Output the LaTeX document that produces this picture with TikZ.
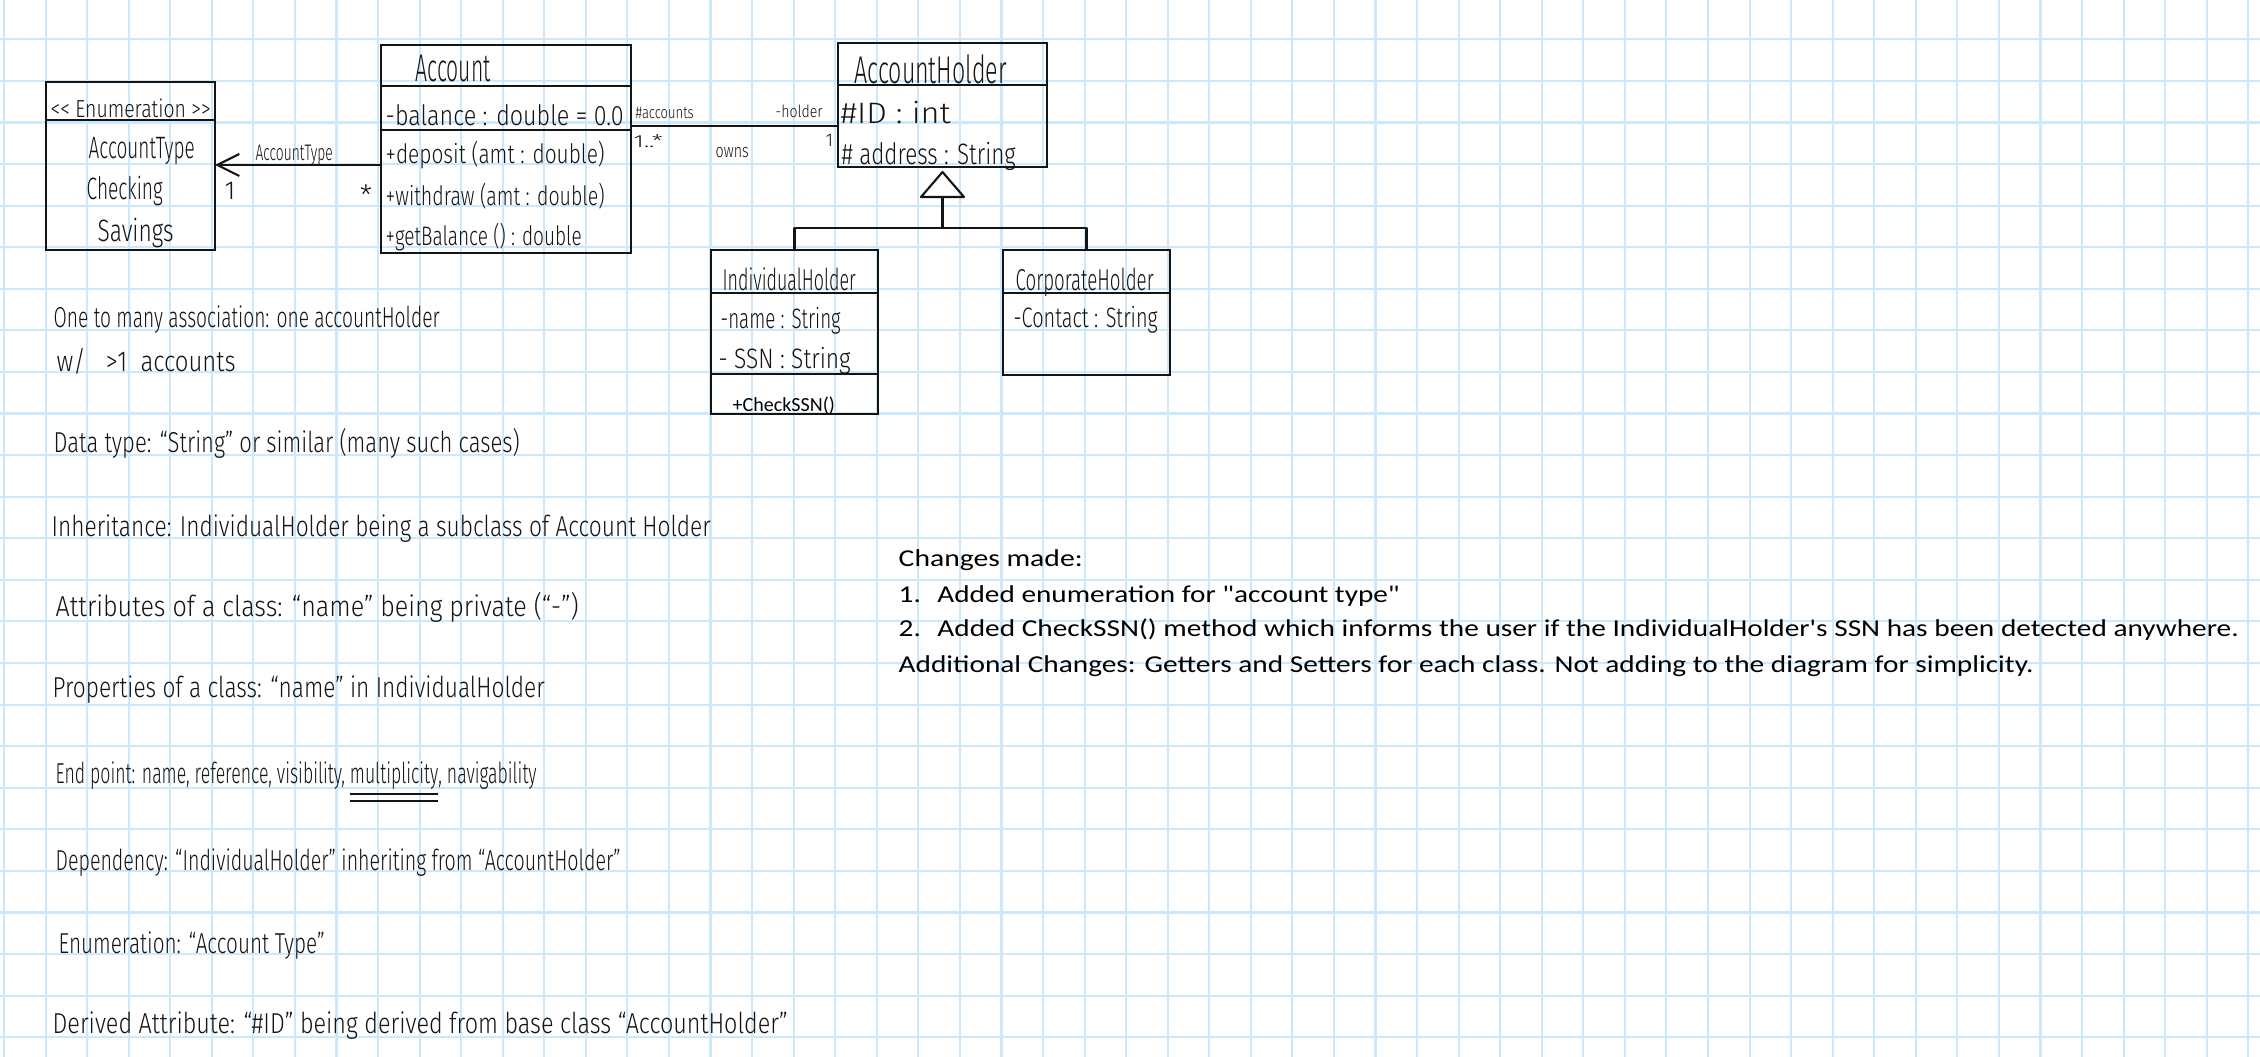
\documentclass[tikz,border=0pt]{standalone}
\usepackage{fontspec}
\usepackage{graphicx}
\usetikzlibrary{positioning, arrows.meta, calc}
\setmainfont{Carlito}
\newfontfamily\handfont[Ligatures=TeX]{Fira Sans Light}
\newfontfamily\typedfont{Carlito}
\definecolor{gridc}{HTML}{CCE8FA}
\definecolor{ink}{HTML}{141414}
\newcommand\handfit[2]{\resizebox{#1}{\height}{#2}}

\begin{document}
\begin{tikzpicture}[
  hand/.style={font=\handfont\fontsize{#1}{#1}\selectfont, text=ink,
               inner sep=0pt, anchor=base west},
  hand/.default=8.2,
  typed/.style={font=\typedfont\fontsize{#1}{#1}\selectfont, text=black,
                inner sep=0pt, anchor=base west},
  typed/.default=6.9,
  cls/.style={draw=ink, line width=0.75pt, inner sep=0pt, outer sep=0pt,
              anchor=north west},
  rule/.style={draw=ink, line width=0.75pt},
  conn/.style={draw=ink, line width=0.6pt, line join=round},
  gridline/.style={gridc, line width=0.6pt},
]
\useasboundingbox (0,0) rectangle (22.6,-10.57);
\fill[white] (0,0) rectangle (22.6,-10.57);

% --- graph paper ------------------------------------------------------------
\foreach \k in {0,...,54}
  \draw[gridline] ({0.04+0.4156*\k}, 0) -- ++(0, -10.57);
\foreach \k in {0,...,24}
  \draw[gridline] (0, {-0.393-0.4158*\k}) -- ++(22.6, 0);

% --- enumeration --------------------------------------------------------------
\node[cls, minimum width=1.69cm, minimum height=1.68cm] (enum) at (0.46, -0.82) {};
\draw[rule] ($(enum.north west)+(0,-0.38)$) -- ($(enum.north east)+(0,-0.38)$);
\node[hand=7] (enumTag) at (0.50, -1.18) {\handfit{1.60cm}{<{}< Enumeration >{}>}};
\node[hand=8.8] (enumName) at (0.88, -1.59) {\handfit{1.06cm}{AccountType}};
\node[hand=8.8] (enumChk) at (0.86, -2.00) {\handfit{0.76cm}{Checking}};
\node[hand=8.8] (enumSav) at (0.97, -2.42) {\handfit{0.76cm}{Savings}};

% --- Account ------------------------------------------------------------------
\node[cls, minimum width=2.50cm, minimum height=2.08cm] (account) at (3.81, -0.45) {};
\draw[rule] ($(account.north west)+(0,-0.41)$) -- ($(account.north east)+(0,-0.41)$);
\draw[rule] ($(account.north west)+(0,-0.85)$) -- ($(account.north east)+(0,-0.85)$);
\node[hand=11] (acctName) at (4.15, -0.82) {\handfit{0.75cm}{Account}};
\node[hand=8] (acctBal) at (3.85, -1.26) {\handfit{2.38cm}{-balance : double = 0.0}};
\node[hand=7.6] (acctDep) at (3.85, -1.64) {\handfit{2.19cm}{+deposit (amt : double)}};
\node[hand=7.6] (acctWd) at (3.85, -2.06) {\handfit{2.19cm}{+withdraw (amt : double)}};
\node[hand=7.6] (acctGet) at (3.85, -2.46) {\handfit{1.96cm}{+getBalance () : double}};

% --- AccountHolder ------------------------------------------------------------
\node[cls, minimum width=2.09cm, minimum height=1.24cm] (holder) at (8.38, -0.43) {};
\draw[rule] ($(holder.north west)+(0,-0.42)$) -- ($(holder.north east)+(0,-0.42)$);
\node[hand=11] (holdName) at (8.54, -0.84) {\handfit{1.52cm}{AccountHolder}};
\node[hand=8.4] (holdId) at (8.40, -1.24) {\handfit{1.10cm}{\#ID : int}};
\node[hand=8.4] (holdAddr) at (8.41, -1.65) {\handfit{1.74cm}{\# address : String}};

% --- IndividualHolder / CorporateHolder ---------------------------------------
\node[cls, minimum width=1.67cm, minimum height=1.64cm] (individ) at (7.11, -2.50) {};
\draw[rule] ($(individ.north west)+(0,-0.43)$) -- ($(individ.north east)+(0,-0.43)$);
\draw[rule] ($(individ.north west)+(0,-1.24)$) -- ($(individ.north east)+(0,-1.24)$);
\node[hand=8.6] (indName) at (7.22, -2.91) {\handfit{1.33cm}{IndividualHolder}};
\node[hand=8] (indNm) at (7.20, -3.29) {\handfit{1.20cm}{-name : String}};
\node[hand=8] (indSsn) at (7.18, -3.69) {\handfit{1.32cm}{- SSN : String}};
\node[typed=5.7] (indChk) at (7.32, -4.12) {+CheckSSN()};

\node[cls, minimum width=1.67cm, minimum height=1.25cm] (corp) at (10.03, -2.50) {};
\draw[rule] ($(corp.north west)+(0,-0.43)$) -- ($(corp.north east)+(0,-0.43)$);
\node[hand=8.6] (corpName) at (10.15, -2.91) {\handfit{1.38cm}{CorporateHolder}};
\node[hand=8] (corpCt) at (10.13, -3.28) {\handfit{1.44cm}{-Contact : String}};

% --- associations ---------------------------------------------------------------
\coordinate (typeA) at ($(account.north west)+(0,-1.20)$);
\draw[conn, -{Straight Barb[length=2.2mm, width=2.2mm]}] (typeA) -- (enum.east |- typeA);
\node[hand=6.4] (typeLbl) at (2.55, -1.61) {\handfit{0.77cm}{AccountType}};
\node[hand=7.4] (typeOne) at (2.24, -2.00) {1};
\node[hand=8, anchor=center] (typeMany) at (3.66, -1.95) {*};

\coordinate (ownA) at ($(account.north east)+(0,-0.81)$);
\draw[conn] (ownA) -- (holder.west |- ownA);
\node[hand=4.8] (ownAccts) at (6.35, -1.19) {\handfit{0.58cm}{\#accounts}};
\node[hand=4.8] (ownHold) at (7.75, -1.18) {\handfit{0.47cm}{-holder}};
\node[hand=5] (ownMany) at (6.33, -1.48) {\handfit{0.29cm}{1..*}};
\node[hand=5.4] (ownLbl) at (7.15, -1.58) {\handfit{0.33cm}{owns}};
\node[hand=5.2] (ownOne) at (8.25, -1.47) {1};

% --- generalization -----------------------------------------------------------
\coordinate (triTop) at ($(holder.south)+(0,-0.05)$);
\coordinate (triBase) at ($(triTop)+(0,-0.25)$);
\coordinate (split) at ($(triBase)+(0,-0.31)$);
\draw[conn] (triTop) -- ++(0.215,-0.25) -- ++(-0.43,0) -- cycle;
\draw[conn] (triBase) -- (split);
\draw[conn] (individ.north) |- (split) -| (corp.north);

% --- handwritten notes ---------------------------------------------------------
\node[hand] (noteOne) at (0.53, -3.28) {\handfit{3.86cm}{One to many association: one accountHolder}};
\node[hand] (noteTwo) at (0.56, -3.72) {\handfit{1.79cm}{w/ \ \ >1 \ accounts}};
\node[hand] (noteData) at (0.53, -4.53) {\handfit{4.66cm}{Data type: ``String'' or similar (many such cases)}};
\node[hand] (noteInh) at (0.51, -5.37) {\handfit{6.59cm}{Inheritance: IndividualHolder being a subclass of Account Holder}};
\node[hand] (noteAttr) at (0.55, -6.17) {\handfit{5.23cm}{Attributes of a class: ``name'' being private (``-'')}};
\node[hand] (noteProp) at (0.52, -6.97) {\handfit{4.92cm}{Properties of a class: ``name'' in IndividualHolder}};
\node[hand] (noteEnd) at (0.55, -7.83) {\handfit{4.81cm}{End point: name, reference, visibility, \underline{\underline{multiplicity}}, navigability}};
\node[hand] (noteDep) at (0.55, -8.70) {\handfit{5.65cm}{Dependency: ``IndividualHolder'' inheriting from ``AccountHolder''}};
\node[hand] (noteEnum) at (0.58, -9.53) {\handfit{2.66cm}{Enumeration: ``Account Type''}};
\node[hand] (noteDer) at (0.52, -10.33) {\handfit{7.35cm}{Derived Attribute: ``\#ID'' being derived from base class ``AccountHolder''}};

% --- typed change list ----------------------------------------------------------
\node[typed] (chgHead) at (8.98, -5.67) {\handfit{1.84cm}{Changes made:}};
\node[typed] (chgOne) at (8.98, -6.02) {\handfit{5.01cm}{\makebox[0.32cm][l]{1.}Added enumeration for "account type"}};
\node[typed] (chgTwo) at (8.98, -6.37) {\handfit{13.40cm}{\makebox[0.32cm][l]{2.}Added CheckSSN() method which informs the user if the IndividualHolder's SSN has been detected anywhere.}};
\node[typed] (chgAdd) at (8.98, -6.72) {\handfit{11.35cm}{Additional Changes: Getters and Setters for each class. Not adding to the diagram for simplicity.}};

\end{tikzpicture}
\end{document}
